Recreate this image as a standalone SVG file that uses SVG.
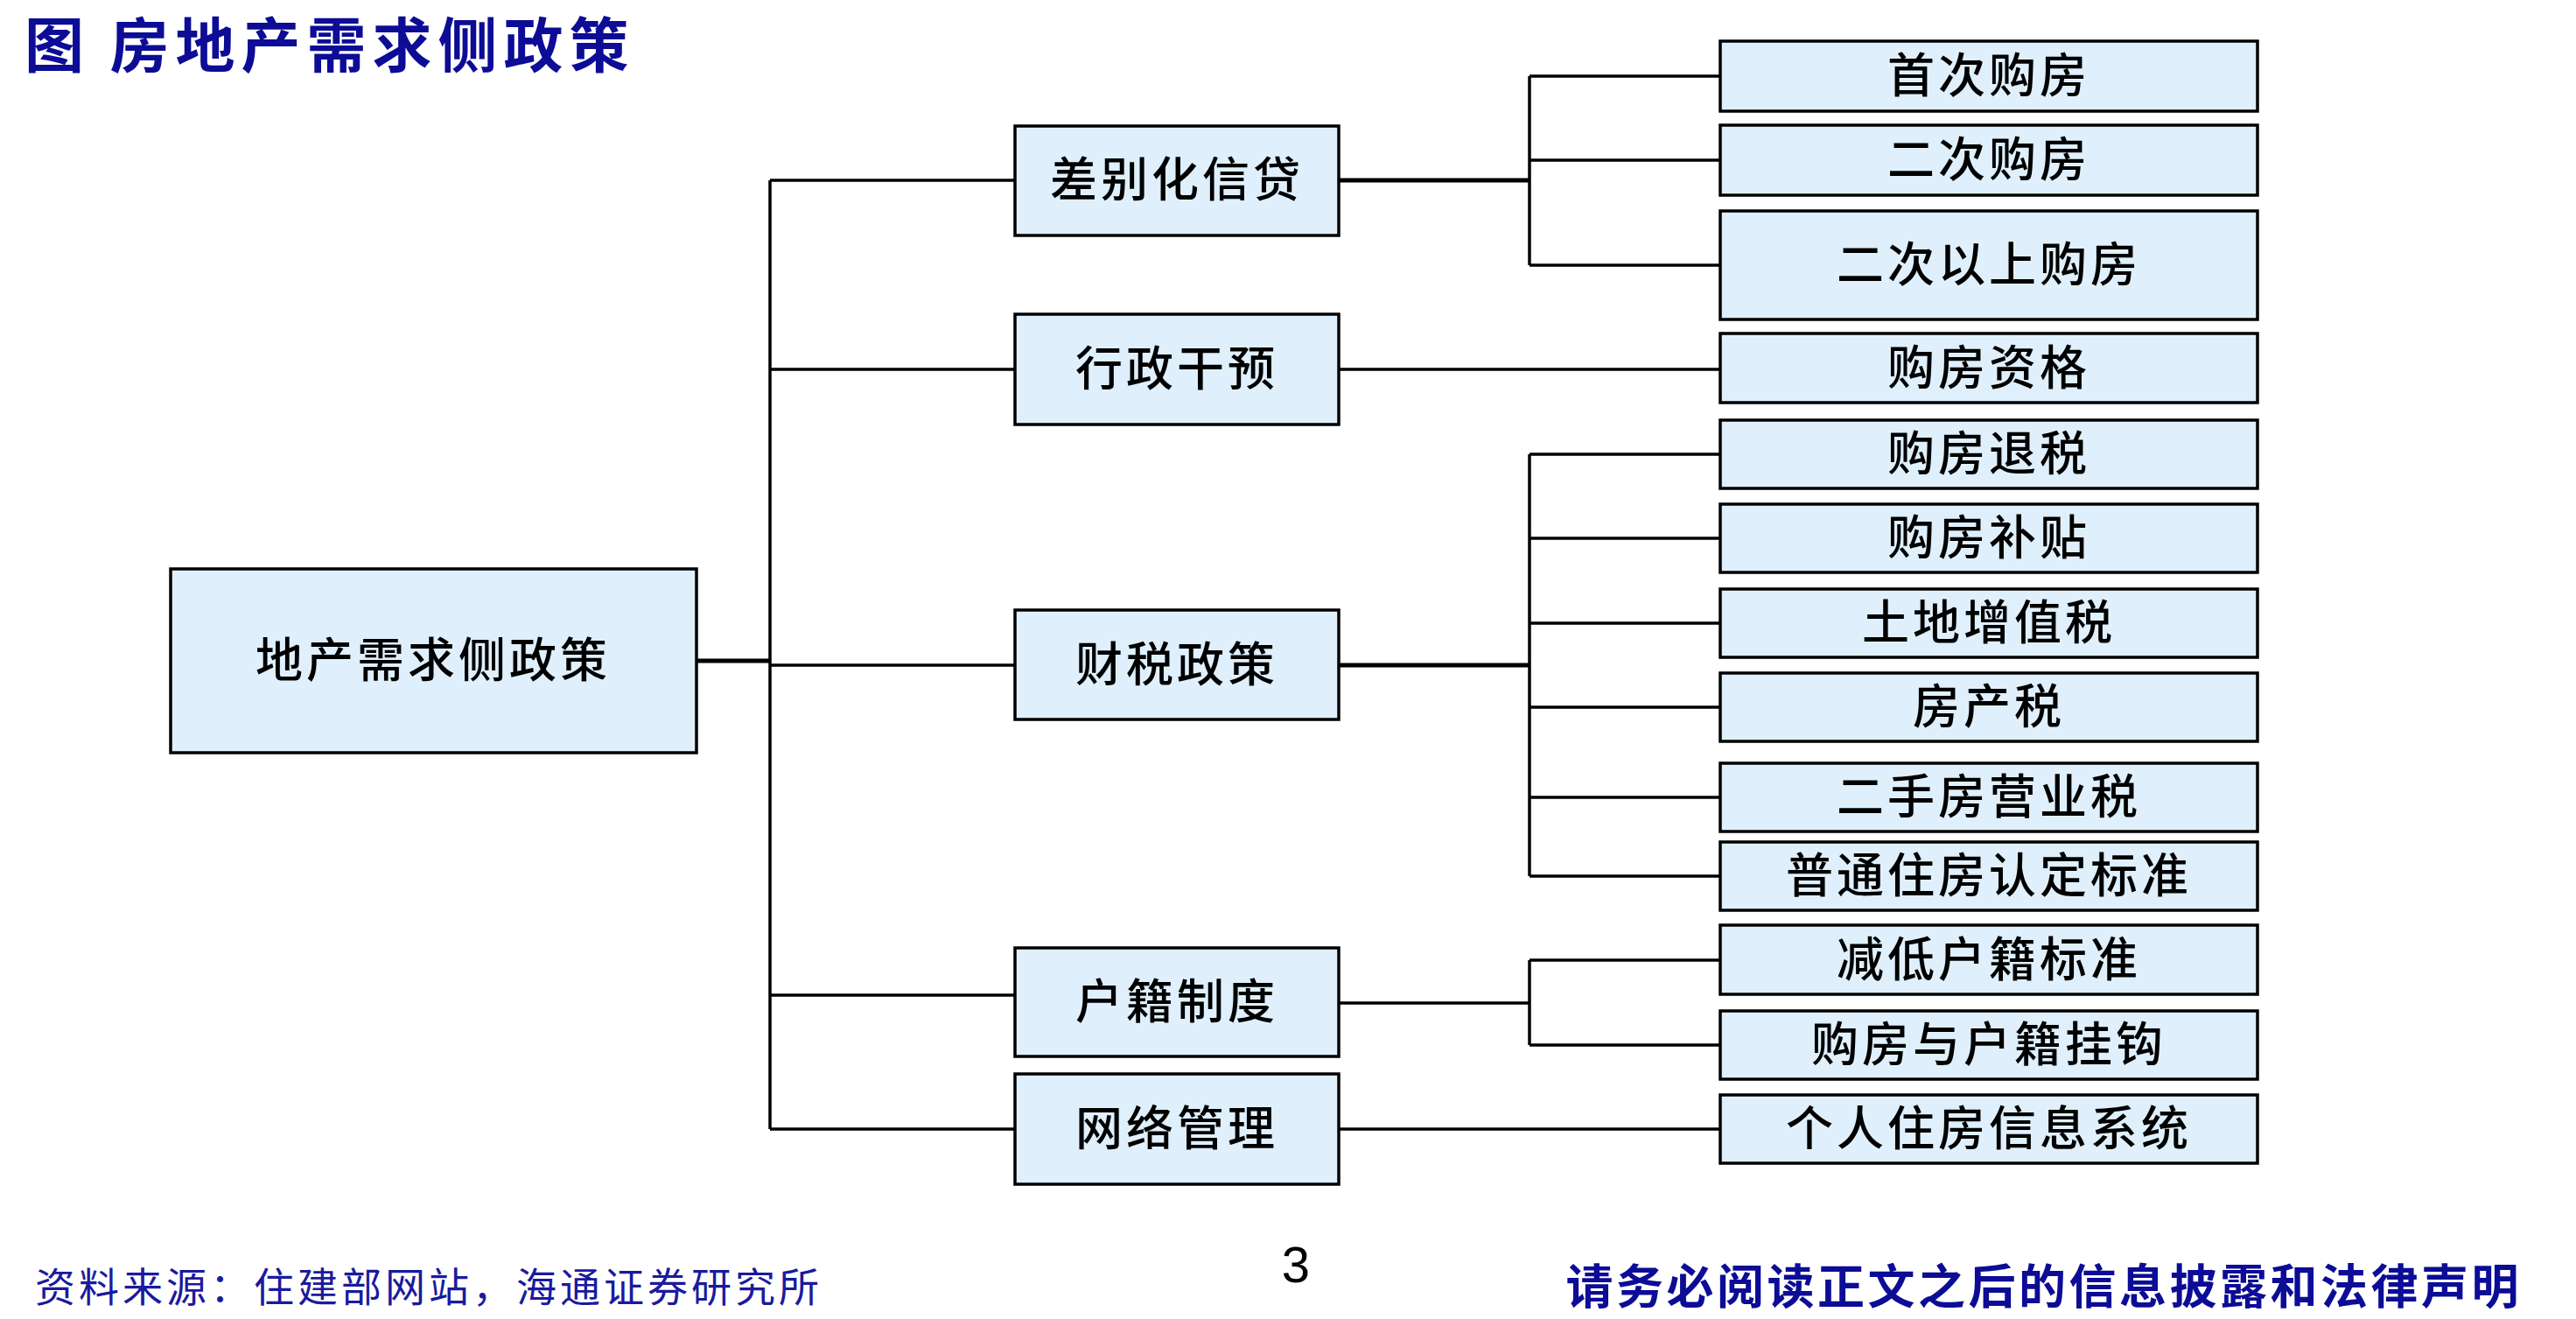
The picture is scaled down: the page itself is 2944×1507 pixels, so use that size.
<svg xmlns="http://www.w3.org/2000/svg" width="2944" height="1507" viewBox="0 0 2944 1507">
<style>
.box{fill:#DFF0FC;stroke:#000;stroke-width:3.5}
.lbl{font-family:"Noto Sans CJK SC","Noto Sans CJK JP",sans-serif;font-size:54px;font-weight:500;letter-spacing:4px;fill:#000;text-anchor:middle;dominant-baseline:central}
.ln{fill:none;stroke:#000;stroke-width:3.5}
.thick{stroke-width:5}
</style>
<rect width="2944" height="1507" fill="#fff"/>
<text x="28" y="77" font-family="Noto Sans CJK SC, sans-serif" font-size="68" font-weight="bold" fill="#0C0C96" letter-spacing="7">图 房地产需求侧政策</text>
<g id="connectors">
<path class="ln thick" d="M796 755H880"/>
<path class="ln" d="M880 206V1290M880 206H1160M880 422H1160M880 760H1160M880 1137H1160M880 1290H1160"/>
<path class="ln thick" d="M1530 206H1748"/>
<path class="ln" d="M1748 87V303M1748 87H1966M1748 183H1966M1748 303H1966"/>
<path class="ln" d="M1530 422H1966"/>
<path class="ln thick" d="M1530 760H1748"/>
<path class="ln" d="M1748 519V1001M1748 519H1966M1748 615H1966M1748 712H1966M1748 808H1966M1748 911H1966M1748 1001H1966"/>
<path class="ln" d="M1530 1146H1748M1748 1097V1194M1748 1097H1966M1748 1194H1966"/>
<path class="ln" d="M1530 1290H1966"/>
</g>
<g id="root"><rect class="box" x="195" y="650" width="601" height="210"/><text class="lbl" x="495" y="750">地产需求侧政策</text></g>
<g id="m1"><rect class="box" x="1160" y="144" width="370" height="125"/><text class="lbl" x="1345" y="201">差别化信贷</text></g>
<g id="m2"><rect class="box" x="1160" y="359" width="370" height="126"/><text class="lbl" x="1345" y="417">行政干预</text></g>
<g id="m3"><rect class="box" x="1160" y="697" width="370" height="125"/><text class="lbl" x="1345" y="755">财税政策</text></g>
<g id="m4"><rect class="box" x="1160" y="1083" width="370" height="124"/><text class="lbl" x="1345" y="1140">户籍制度</text></g>
<g id="m5"><rect class="box" x="1160" y="1227" width="370" height="126"/><text class="lbl" x="1345" y="1285">网络管理</text></g>
<g id="l1"><rect class="box" x="1966" y="47" width="614" height="80"/><text class="lbl" x="2273" y="82">首次购房</text></g>
<g id="l2"><rect class="box" x="1966" y="143" width="614" height="80"/><text class="lbl" x="2273" y="178">二次购房</text></g>
<g id="l3"><rect class="box" x="1966" y="241" width="614" height="124"/><text class="lbl" x="2273" y="298">二次以上购房</text></g>
<g id="l4"><rect class="box" x="1966" y="381" width="614" height="79"/><text class="lbl" x="2273" y="416">购房资格</text></g>
<g id="l5"><rect class="box" x="1966" y="480" width="614" height="78"/><text class="lbl" x="2273" y="514">购房退税</text></g>
<g id="l6"><rect class="box" x="1966" y="576" width="614" height="78"/><text class="lbl" x="2273" y="610">购房补贴</text></g>
<g id="l7"><rect class="box" x="1966" y="673" width="614" height="78"/><text class="lbl" x="2273" y="707">土地增值税</text></g>
<g id="l8"><rect class="box" x="1966" y="769" width="614" height="78"/><text class="lbl" x="2273" y="803">房产税</text></g>
<g id="l9"><rect class="box" x="1966" y="872" width="614" height="78"/><text class="lbl" x="2273" y="906">二手房营业税</text></g>
<g id="l10"><rect class="box" x="1966" y="962" width="614" height="78"/><text class="lbl" x="2273" y="996">普通住房认定标准</text></g>
<g id="l11"><rect class="box" x="1966" y="1057" width="614" height="79"/><text class="lbl" x="2273" y="1092">减低户籍标准</text></g>
<g id="l12"><rect class="box" x="1966" y="1155" width="614" height="78"/><text class="lbl" x="2273" y="1189">购房与户籍挂钩</text></g>
<g id="l13"><rect class="box" x="1966" y="1251" width="614" height="78"/><text class="lbl" x="2273" y="1285">个人住房信息系统</text></g>
<text x="40" y="1487" font-family="Noto Sans CJK SC, sans-serif" font-size="46" fill="#1A1A9E" letter-spacing="4">资料来源：住建部网站，海通证券研究所</text>
<text x="1481" y="1465" font-family="Liberation Sans, sans-serif" font-size="58" fill="#000" text-anchor="middle">3</text>
<text x="2882" y="1490" font-family="Noto Sans CJK SC, sans-serif" font-size="54" font-weight="bold" fill="#0C0C96" text-anchor="end" letter-spacing="3.5">请务必阅读正文之后的信息披露和法律声明</text>
</svg>
